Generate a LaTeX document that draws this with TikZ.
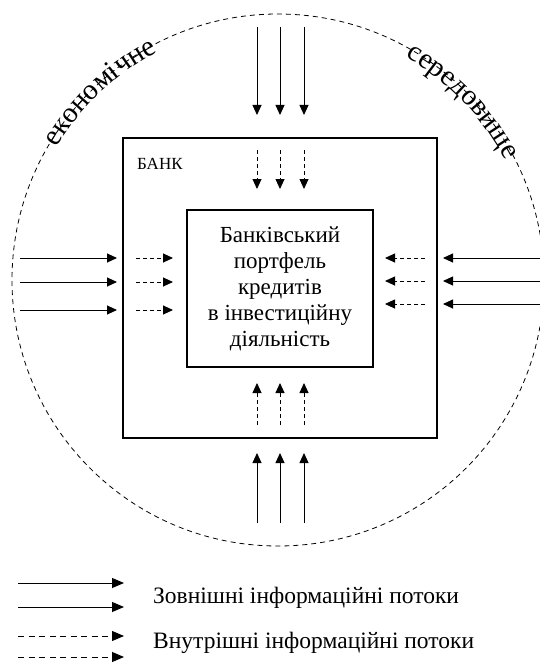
\documentclass[tikz,border=0pt]{standalone}
\usepackage{fontspec}
\setmainfont{Liberation Serif}
\usetikzlibrary{arrows.meta,decorations.text,calc}
\begin{document}
\begin{tikzpicture}[x=1pt,y=-1pt,
  tipstyle/.style={-{Triangle[length=10pt,width=9pt]}},
  ext/.style={line width=0.9pt,tipstyle},
  int/.style={line width=0.9pt,dash pattern=on 4pt off 3pt,tipstyle},
  boxstyle/.style={draw,line width=1.1pt,inner sep=0pt},
  envstyle/.style={circle,draw,line width=0.8pt,dash pattern=on 5pt off 4pt,minimum size=532pt,inner sep=0pt},
  arctext/.style={decorate,decoration={text along path,text align=center,
     text={|\fontsize{29}{32}\selectfont|#1}}}]
\useasboundingbox (0,0) rectangle (540,663);
\clip (0,0) rectangle (540,663);

% environment circle
\node[envstyle] (env) at (278,280) {};

% arc texts
\path[arctext={економічне}] ($(env.center)+(158:258pt)$) arc[start angle=158,end angle=109,radius=258pt];
\path[arctext={середовище}] ($(env.center)+(68:257pt)$) arc[start angle=68,end angle=20,radius=257pt];

% bank
\node[boxstyle,minimum width=314pt,minimum height=300pt] (bank) at (280,288) {};
\node[anchor=base west,font=\fontsize{17}{20}\selectfont,inner sep=0pt] (banklabel) at (137,169) {БАНК};

% portfolio
\node[boxstyle,minimum width=186pt,minimum height=157pt,align=center,
      font=\fontsize{23}{26}\selectfont] (port) at (280,288.5)
  {Банківський\\портфель\\кредитів\\в інвестиційну\\діяльність};

% vertical arrows
\foreach \i/\x in {1/257,2/280,3/304}{
  \coordinate (ta\i) at (\x,27);  \coordinate (tb\i) at (\x,115);
  \coordinate (tc\i) at (\x,150); \coordinate (td\i) at (\x,189);
  \coordinate (ba\i) at (\x,523); \coordinate (bb\i) at (\x,453);
  \coordinate (bc\i) at (\x,425); \coordinate (bd\i) at (\x,383);
  \draw[ext] (ta\i) -- (tb\i);
  \draw[int] (tc\i) -- (td\i);
  \draw[ext] (ba\i) -- (bb\i);
  \draw[int] (bc\i) -- (bd\i);
}
% left arrows
\foreach \i/\y in {1/258,2/282,3/310}{
  \coordinate (la\i) at (20,\y);  \coordinate (lb\i) at (117,\y);
  \coordinate (lc\i) at (136,\y); \coordinate (ld\i) at (173,\y);
  \draw[ext] (la\i) -- (lb\i);
  \draw[int] (lc\i) -- (ld\i);
}
% right arrows
\foreach \i/\y in {1/258,2/281,3/304}{
  \coordinate (ra\i) at (545,\y); \coordinate (rb\i) at (443,\y);
  \coordinate (rc\i) at (425,\y); \coordinate (rd\i) at (385,\y);
  \draw[ext] (ra\i) -- (rb\i);
  \draw[int] (rc\i) -- (rd\i);
}

% legend
\coordinate (g1a) at (18,583); \coordinate (g1b) at (124,583);
\coordinate (g2a) at (18,607); \coordinate (g2b) at (124,607);
\coordinate (g3a) at (18,636); \coordinate (g3b) at (124,636);
\coordinate (g4a) at (18,657); \coordinate (g4b) at (124,657);
\draw[ext,-{Triangle[length=12pt,width=10pt]}] (g1a) -- (g1b);
\draw[ext,-{Triangle[length=12pt,width=10pt]}] (g2a) -- (g2b);
\draw[line width=0.9pt,dash pattern=on 6pt off 4.5pt,-{Triangle[length=12pt,width=10pt]}] (g3a) -- (g3b);
\draw[line width=0.9pt,dash pattern=on 6pt off 4.5pt,-{Triangle[length=12pt,width=10pt]}] (g4a) -- (g4b);
\node[anchor=base west,inner sep=0pt,font=\fontsize{23.5}{26}\selectfont] (lext) at (153,603) {Зовнішні інформаційні потоки};
\node[anchor=base west,inner sep=0pt,font=\fontsize{23.5}{26}\selectfont] (lint) at (153,648) {Внутрішні інформаційні потоки};
\end{tikzpicture}
\end{document}
